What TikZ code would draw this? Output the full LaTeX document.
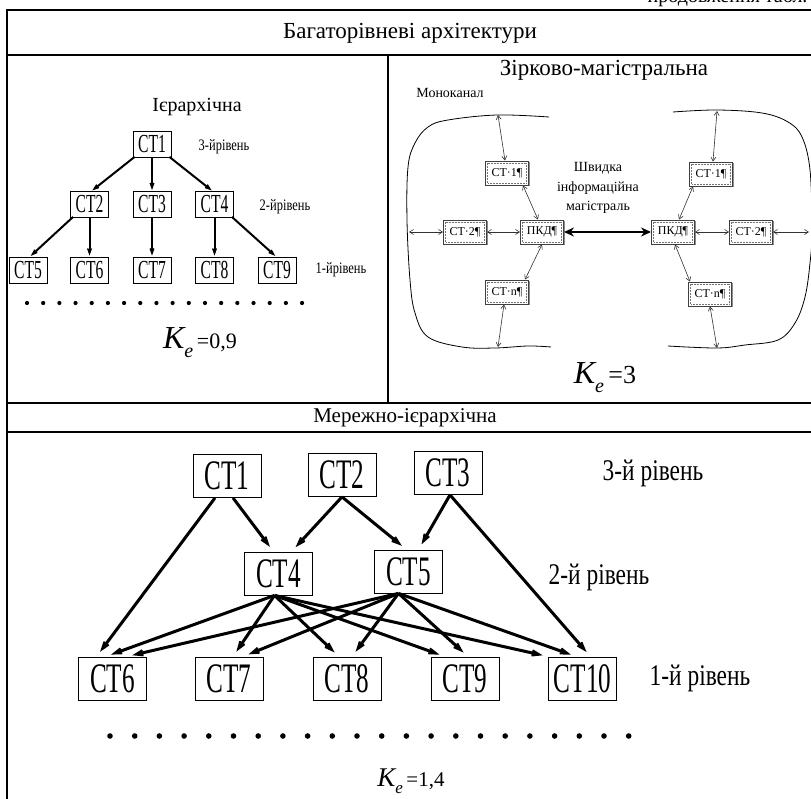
\documentclass[tikz,border=0pt]{standalone}
\usepackage{fontspec}
\setmainfont{Liberation Serif}
\newfontfamily\condbox[FakeStretch=0.6]{Liberation Serif}
\newfontfamily\condlab[FakeStretch=0.78]{Liberation Serif}
\newfontfamily\serifit{Liberation Serif Italic}
\newfontfamily\serifup{Liberation Serif}
\usetikzlibrary{arrows.meta,shadows}
\begin{document}
\begin{tikzpicture}[x=1pt,y=-1pt,
  tline/.style={line width=2pt},
  hbox/.style={draw,line width=0.8pt,minimum width=38pt,minimum height=26pt,inner sep=0pt,
    font=\condbox\fontsize{26}{26}\selectfont},
  hlab/.style={font=\condlab\fontsize{16}{16}\selectfont},
  harr/.style={line width=2pt,-{Stealth[length=14pt,width=10pt,inset=9pt]},shorten >=1pt},
  sbox/.style={draw=black!75,line width=0.9pt,fill=white,minimum width=43pt,minimum height=24pt,
    inner sep=0pt,font=\serifup\fontsize{12}{12}\selectfont,
    drop shadow={shadow xshift=1.2pt,shadow yshift=-1.2pt,fill=black!45,opacity=1},
    path picture={\draw[densely dotted,black!55,line width=0.5pt]
      ([shift={(2.2pt,2.2pt)}]path picture bounding box.south west) rectangle
      ([shift={(-2.2pt,-2.2pt)}]path picture bounding box.north east);}},
  sarr/.style={line width=0.6pt,black!80,{Straight Barb[length=4pt,width=5pt]}-{Straight Barb[length=4pt,width=5pt]}},
  curve/.style={line width=0.8pt},
  bbox/.style={draw,line width=0.8pt,minimum width=68pt,minimum height=43pt,inner sep=0pt,
    font=\condbox\fontsize{42}{42}\selectfont},
  blab/.style={font=\condlab\fontsize{30}{30}\selectfont},
  barr/.style={line width=3pt,-{Stealth[length=22pt,width=15pt,inset=14pt]},shorten >=6pt},
  ttl/.style={font=\serifup\fontsize{20}{20}\selectfont},
]
\useasboundingbox (0,0) rectangle (811,799);
\fill[white] (0,0) rectangle (811,799);

% ---------- table rules ----------
\draw[tline] (7,10) -- (813,10);
\draw[tline] (7,55) -- (813,55);
\draw[tline] (7,403) -- (813,403);
\draw[tline] (7,432) -- (813,432);
\draw[tline] (7,9) -- (7,802);
\draw[tline] (388,55) -- (388,403);

\node[ttl,anchor=base east] (cont) at (811,3) {продовження табл.};
\node[font=\serifup\fontsize{23}{23}\selectfont] (hdr) at (410,33) {Багаторівневі архітектури};
\node[font=\serifup\fontsize{21}{21}\selectfont] (hdr2) at (405,418) {Мережно-ієрархічна};

% ---------- hierarchical ----------
\node[ttl] (tieq) at (197,107) {Ієрархічна};
\node[hbox] (a1) at (152,144.5) {СТ1};
\node[hbox] (a2) at (89.5,204.5) {СТ2};
\node[hbox] (a3) at (152,204.5) {СТ3};
\node[hbox] (a4) at (214.5,204.5) {СТ4};
\node[hbox] (a5) at (28,270) {СТ5};
\node[hbox] (a6) at (89.5,270) {СТ6};
\node[hbox] (a7) at (152,270) {СТ7};
\node[hbox] (a8) at (214.5,270) {СТ8};
\node[hbox] (a9) at (277,270) {СТ9};
\node[hlab] (al3) at (224,147) {3-йрівень};
\node[hlab] (al2) at (285,207) {2-йрівень};
\node[hlab] (al1) at (341,270) {1-йрівень};

\draw[harr] ([shift={(2pt,1pt)}]a1.south west) -- ([xshift=2pt]a2.north);
\draw[harr] (a1.south) -- (a3.north);
\draw[harr] ([shift={(-2pt,1pt)}]a1.south east) -- ([xshift=-2pt]a4.north);
\draw[harr] ([shift={(3pt,1pt)}]a2.south west) -- ([xshift=2pt]a5.north);
\draw[harr] (a2.south) -- (a6.north);
\draw[harr] (a3.south) -- (a7.north);
\draw[harr] (a4.south) -- (a8.north);
\draw[harr] ([shift={(-2pt,1pt)}]a4.south east) -- ([xshift=-1pt]a9.north);

\foreach \i in {0,...,17} \fill (27+\i*16.18,303) circle (2.1pt);

\node (ke1) at (200,343) {{\serifit\fontsize{32}{32}\selectfont K}\raisebox{-9pt}{\serifit\fontsize{20}{20}\selectfont e}{\serifup\fontsize{22}{22}\selectfont\,=0,9}};

% ---------- star-trunk ----------
\node[font=\serifup\fontsize{23}{23}\selectfont] (tstar) at (604,70) {Зірково-магістральна};
\node[font=\serifup\fontsize{14}{14}\selectfont] (mono) at (450,93) {Моноканал};

\draw[curve] plot[smooth,tension=0.6] coordinates {(549,117) (497,115) (448,120) (428,127) (415,143) (408,167) (407,220) (410,280) (415,313) (428,337) (462,347) (495,348) (528,346) (551,347)};
\draw[curve] plot[smooth,tension=0.6] coordinates {(673,112) (717,110) (762,113) (788,122) (802,137) (810,170) (812,230) (810,263) (805,297) (795,323) (778,340) (745,345) (717,348) (668,346)};

\node[sbox] (l1) at (507,173) {СТ·1¶};
\node[sbox] (l2) at (465,232) {СТ·2¶};
\node[sbox] (lp) at (542,232) {ПКД¶};
\node[sbox] (ln) at (507,292) {СТ·n¶};
\node[sbox] (r1) at (711,174) {СТ·1¶};
\node[sbox] (rp) at (673,232) {ПКД¶};
\node[sbox] (r2) at (751,232) {СТ·2¶};
\node[sbox] (rn) at (710,294) {СТ·n¶};

\node[align=center,font=\serifup\fontsize{14}{19.5}\selectfont] (fast) at (598,188) {Швидка\\інформаційна\\магістраль};

\coordinate (tl) at (498,115);
\coordinate (bl) at (498,347);
\coordinate (ll) at (409,232);
\coordinate (tr) at (717,111);
\coordinate (br) at (717,348);
\coordinate (rr) at (809,232);

\draw[sarr] (tl) -- ([xshift=-2pt]l1.north);
\draw[sarr] ([xshift=16pt]l1.south) -- ([xshift=-4pt]lp.north);
\draw[sarr] (ll) -- (l2.west);
\draw[sarr] (l2.east) -- (lp.west);
\draw[sarr] (lp.south) -- ([xshift=18pt]ln.north);
\draw[sarr] ([xshift=-3pt]ln.south) -- (bl);
\draw[line width=2.2pt,{Stealth[length=10pt,width=9pt]}-{Stealth[length=10pt,width=9pt]}] (lp.east) -- (rp.west);
\draw[sarr] ([xshift=6pt]rp.north) -- ([xshift=-18pt]r1.south);
\draw[sarr] ([xshift=2pt]r1.north) -- (tr);
\draw[sarr] (rp.east) -- (r2.west);
\draw[sarr] (r2.east) -- (rr);
\draw[sarr] ([xshift=2pt]rp.south) -- ([xshift=-20pt]rn.north);
\draw[sarr] (rn.south) -- (br);

\node (ke2) at (605,378) {{\serifit\fontsize{32}{32}\selectfont K}\raisebox{-9pt}{\serifit\fontsize{20}{20}\selectfont e}{\serifup\fontsize{26}{26}\selectfont\,=3}};

% ---------- network-hierarchical ----------
\node[bbox] (b1) at (227,476) {СТ1};
\node[bbox] (b2) at (342,475) {СТ2};
\node[bbox] (b3) at (448,473) {СТ3};
\node[bbox] (b4) at (278.5,573.5) {СТ4};
\node[bbox] (b5) at (408.5,571.5) {СТ5};
\node[bbox] (b6) at (112.5,678.5) {СТ6};
\node[bbox] (b7) at (229,678.5) {СТ7};
\node[bbox] (b8) at (347,678.5) {СТ8};
\node[bbox] (b9) at (465,678.5) {СТ9};
\node[bbox] (b10) at (582.5,678.5) {СТ10};
\node[blab] (bl3) at (653,473) {3-й рівень};
\node[blab] (bl2) at (599,577) {2-й рівень};
\node[blab] (bl1) at (700,678) {1-й рівень};

\draw[barr] ([xshift=-12pt]b1.south) -- ([xshift=-16pt]b6.north);
\draw[barr] ([xshift=6pt]b1.south) -- ([xshift=-5pt]b4.north);
\draw[barr] (b2.south) -- ([xshift=13pt]b4.north);
\draw[barr] (b2.south) -- ([xshift=-2pt]b5.north);
\draw[barr] ([xshift=2pt]b3.south) -- ([xshift=10pt]b5.north);
\draw[barr] ([xshift=2pt]b3.south) -- ([xshift=8pt]b10.north);

\foreach \t/\dx in {b6/-7,b7/4,b8/-8,b9/-20,b10/-34}
  \draw[barr] ([xshift=-4pt]b4.south) -- ([xshift=\dx pt]\t.north);
\foreach \t/\dx in {b6/14,b7/14,b8/5,b9/3,b10/-6}
  \draw[barr] ([xshift=-10pt]b5.south) -- ([xshift=\dx pt]\t.north);

\foreach \i in {0,...,21} \fill (110+\i*24.7,736) circle (2.8pt);

\node (ke3) at (411,781) {{\serifit\fontsize{27}{27}\selectfont K}\raisebox{-7pt}{\serifit\fontsize{17}{17}\selectfont e}{\serifup\fontsize{21}{21}\selectfont\,=1,4}};
\end{tikzpicture}
\end{document}
